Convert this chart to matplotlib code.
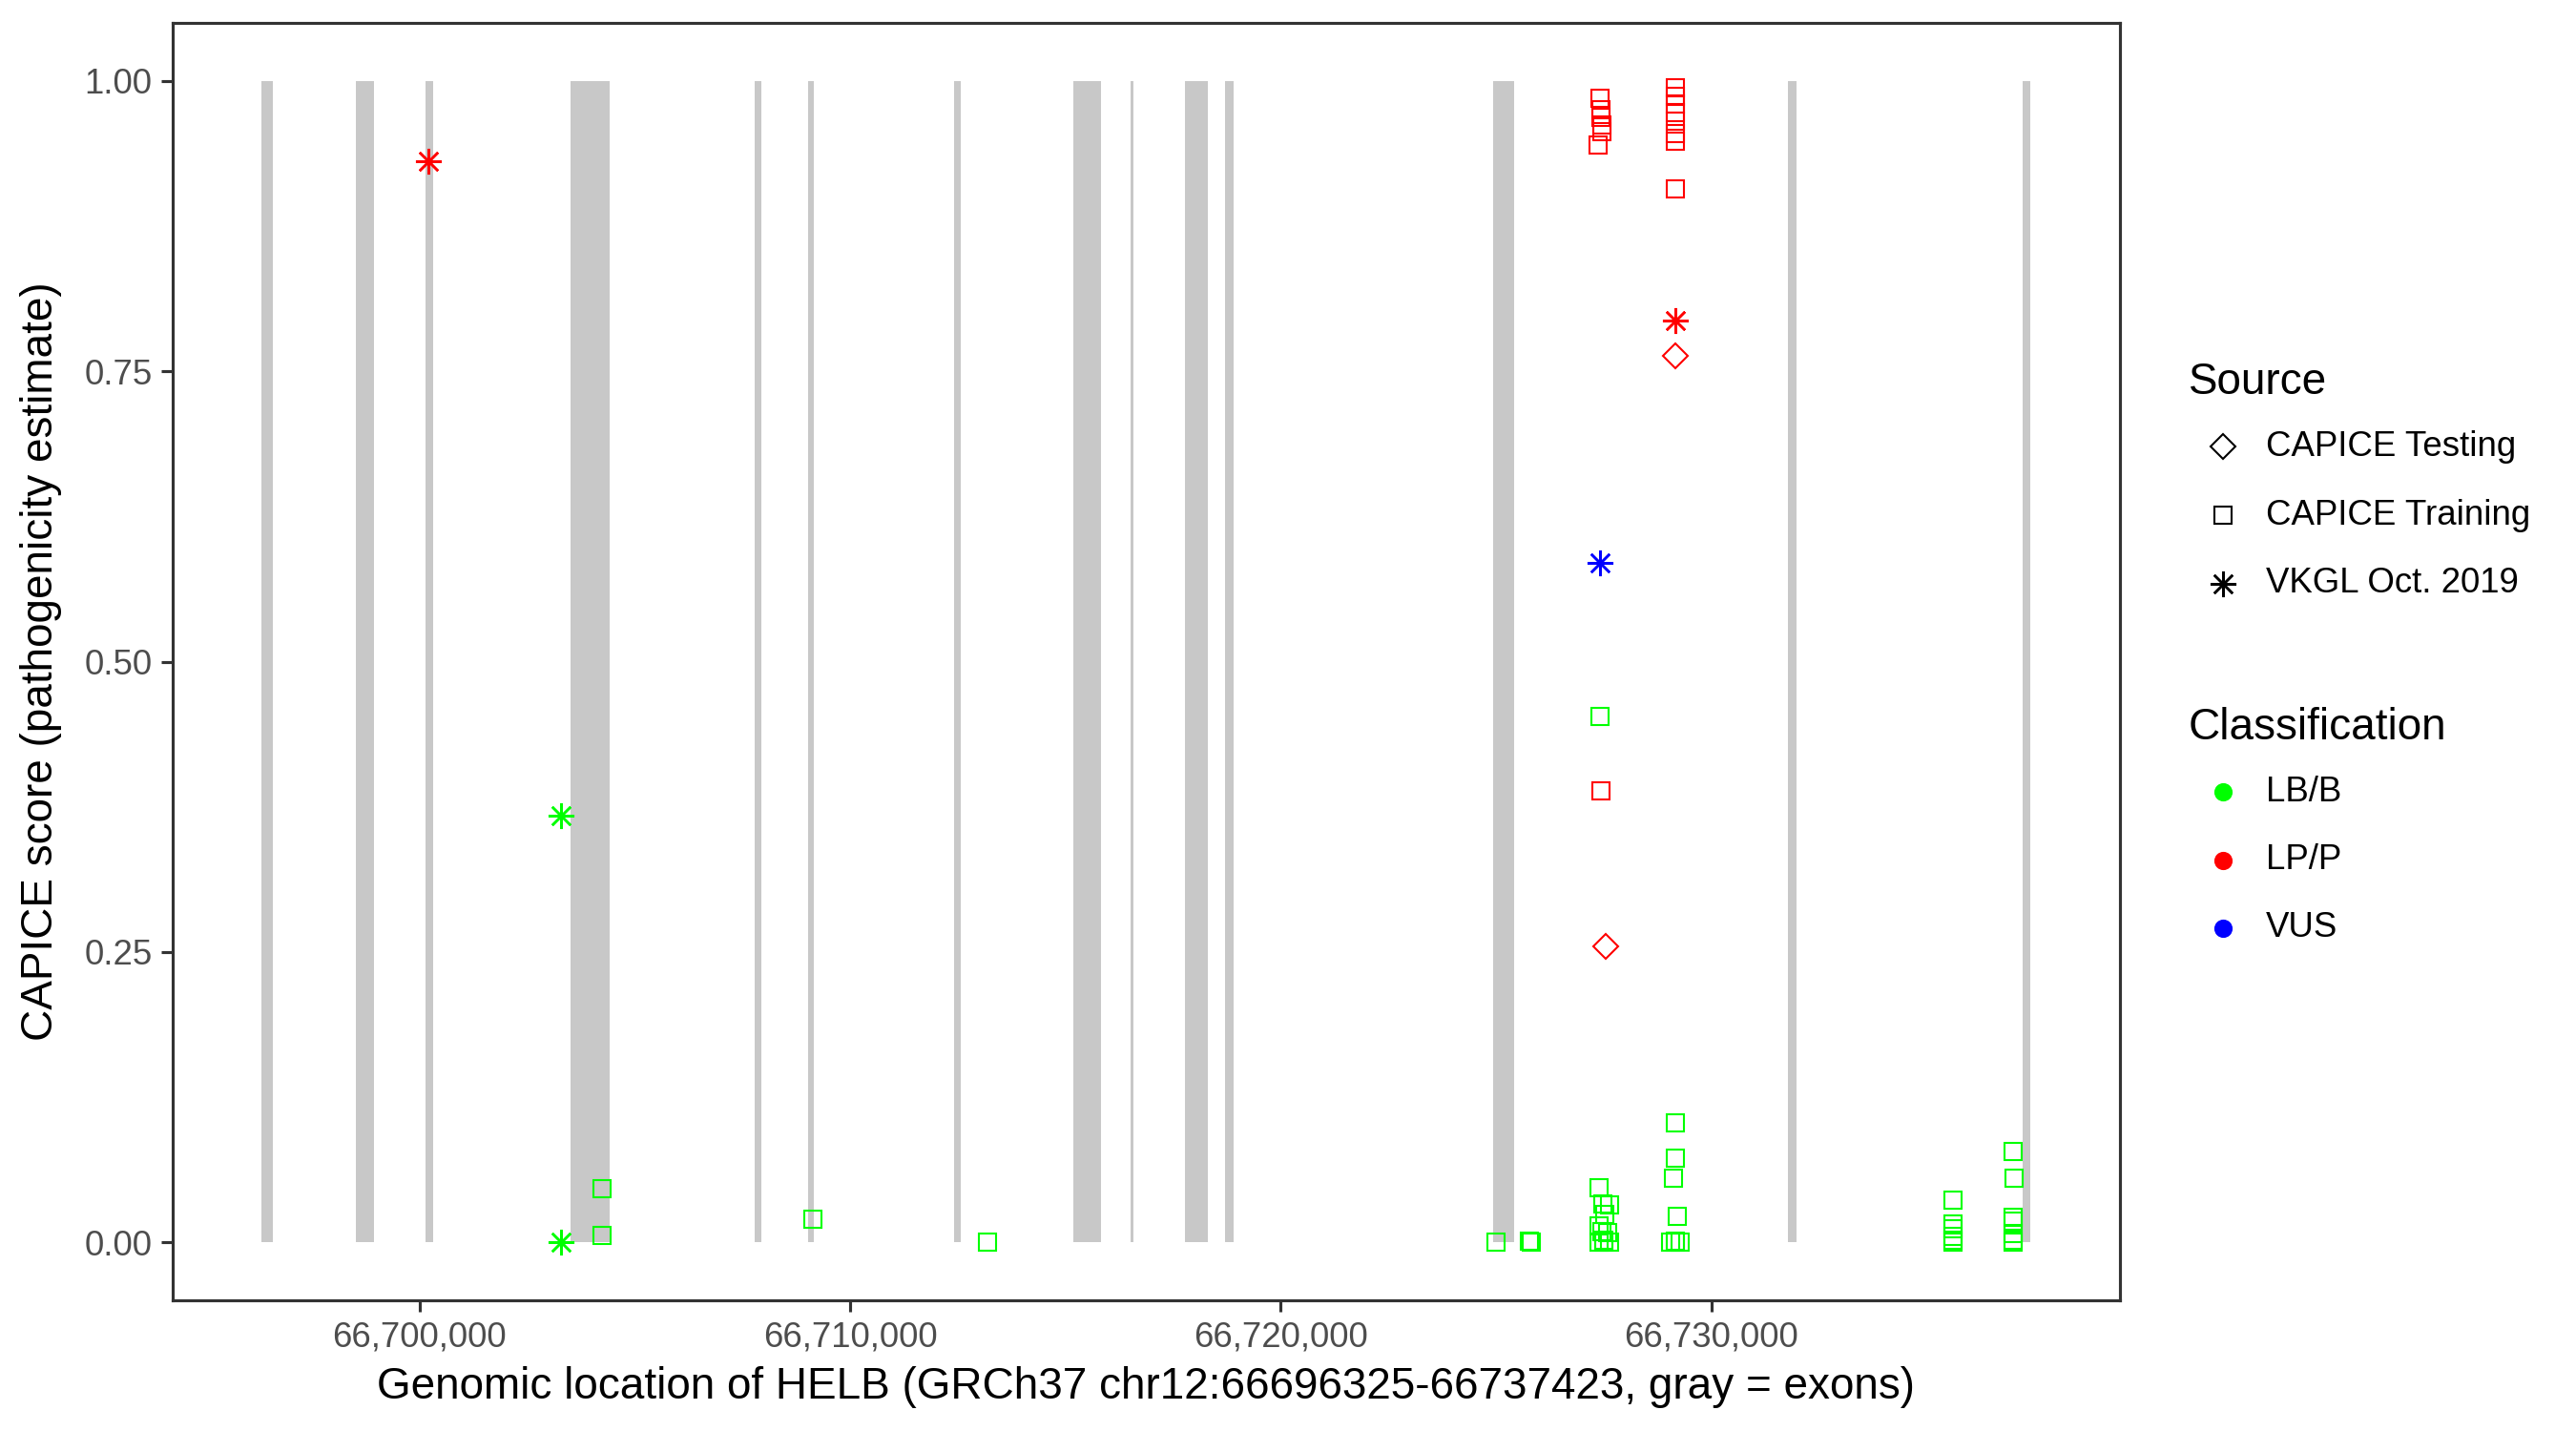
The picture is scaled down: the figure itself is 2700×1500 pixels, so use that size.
import matplotlib
matplotlib.use("Agg")
import matplotlib.pyplot as plt
from matplotlib.lines import Line2D
from matplotlib.ticker import FuncFormatter

plt.rcParams['font.family'] = ['Liberation Sans', 'DejaVu Sans']

# gene window (GRCh37 chr12)
gene_start = 66696325
gene_end = 66737423

# exons (gray bars)
exon_start = [66696340, 66698529, 66700144, 66703506, 66707775, 66709036, 66712420,
              66715185, 66716513, 66717773, 66718703, 66724940, 66731775, 66737217]
exon_end = [66696605, 66698949, 66700321, 66704413, 66707952, 66709169, 66712575,
            66715827, 66716579, 66718304, 66718902, 66725427, 66731974, 66737416]

# CAPICE Training, LB/B
train_lb_pos = [66704236, 66704236, 66709147, 66713195, 66725007, 66725781, 66725830,
                66727410, 66727385, 66727485, 66727640, 66727530, 66727385, 66727460,
                66727590, 66727510, 66727510, 66727640, 66727400,
                66729165, 66729165, 66729110, 66729205, 66729055, 66729165, 66729275, 66729165,
                66735602, 66735602, 66735602, 66735602, 66735602, 66735602,
                66736996, 66737030, 66736996, 66736996, 66736996, 66736996, 66736996]
train_lb_score = [0.046, 0.0055, 0.0197, 0.0, 0.0, 0.001, 0.0,
                  0.453, 0.047, 0.033, 0.0325, 0.024, 0.0145, 0.009,
                  0.008, 0.002, 0.0, 0.0, 0.0,
                  0.103, 0.0725, 0.0555, 0.0227, 0.0, 0.0, 0.0, 0.001,
                  0.0364, 0.0159, 0.012, 0.005, 0.002, 0.0,
                  0.078, 0.0555, 0.0219, 0.0186, 0.0077, 0.002, 0.0]

# CAPICE Training, LP/P
train_lp_pos = [66727418, 66727440, 66727440, 66727460, 66727460, 66727380, 66727440,
                66729165, 66729165, 66729165, 66729165, 66729165, 66729165, 66729165, 66729165]
train_lp_score = [0.985, 0.975, 0.969, 0.962, 0.956, 0.945, 0.389,
                  0.994, 0.987, 0.980, 0.973, 0.965, 0.955, 0.948, 0.907]

# CAPICE Testing, LP/P
test_lp_pos = [66727550, 66729165]
test_lp_score = [0.255, 0.7635]

# VKGL Oct. 2019
vkgl_lb_pos = [66703285, 66703285]
vkgl_lb_score = [0.367, 0.0]
vkgl_lp_pos = [66700210, 66729165]
vkgl_lp_score = [0.931, 0.794]
vkgl_vus_pos = [66727425]
vkgl_vus_score = [0.585]

class_colors = {"LB/B": "#00FF00", "LP/P": "#FF0000", "VUS": "#0000FF"}
source_markers = {"CAPICE Testing": "D", "CAPICE Training": "s", "VKGL Oct. 2019": (8, 2, 0)}
marker_sizes = {"CAPICE Testing": 4.4, "CAPICE Training": 4.2, "VKGL Oct. 2019": 6.5}
marker_widths = {"CAPICE Testing": 0.5, "CAPICE Training": 0.5, "VKGL Oct. 2019": 0.6}

fig = plt.figure(figsize=(9, 5), dpi=300)
ax = fig.add_axes([0.067, 0.0913, 0.7558, 0.8927])

# exons
ax.bar(exon_start, [1.0] * len(exon_start),
       width=[e - s for s, e in zip(exon_start, exon_end)],
       align="edge", bottom=0, color="#C8C8C8", linewidth=0, zorder=1)


def draw(pos, score, source, cls):
    ax.plot(pos, score, linestyle="none", marker=source_markers[source],
            markersize=marker_sizes[source], markerfacecolor="none",
            markeredgecolor=class_colors[cls], markeredgewidth=marker_widths[source],
            color=class_colors[cls], zorder=3)


draw(train_lb_pos, train_lb_score, "CAPICE Training", "LB/B")
draw(train_lp_pos, train_lp_score, "CAPICE Training", "LP/P")
draw(test_lp_pos, test_lp_score, "CAPICE Testing", "LP/P")
draw(vkgl_lb_pos, vkgl_lb_score, "VKGL Oct. 2019", "LB/B")
draw(vkgl_lp_pos, vkgl_lp_score, "VKGL Oct. 2019", "LP/P")
draw(vkgl_vus_pos, vkgl_vus_score, "VKGL Oct. 2019", "VUS")

span = gene_end - gene_start
ax.set_xlim(gene_start - 0.05 * span, gene_end + 0.05 * span)
ax.set_ylim(-0.05, 1.05)
ax.set_xticks([66700000, 66710000, 66720000, 66730000])
ax.xaxis.set_major_formatter(FuncFormatter(lambda v, p: f"{int(v):,}"))
ax.set_yticks([0, 0.25, 0.5, 0.75, 1.0])
ax.set_yticklabels(["0.00", "0.25", "0.50", "0.75", "1.00"])

for s in ax.spines.values():
    s.set_color("#333333")
    s.set_linewidth(0.75)
ax.tick_params(axis="both", length=2.8, width=0.75, color="#333333",
               labelsize=8.8, labelcolor="#4D4D4D", pad=2.3)

ax.set_xlabel("Genomic location of HELB (GRCh37 chr12:66696325-66737423, gray = exons)",
              fontsize=11, labelpad=3)
ax.set_ylabel("CAPICE score (pathogenicity estimate)", fontsize=11, labelpad=5.5)

# legends
W, H = 2700.0, 1500.0


def fx(px):
    return px / W


def fy(py):
    return 1 - py / H


key_x, text_x, title_x = 2330, 2375, 2294
fig.text(fx(title_x), fy(401), "Source", fontsize=11, va="center", ha="left")
for i, src in enumerate(["CAPICE Testing", "CAPICE Training", "VKGL Oct. 2019"]):
    y = 468 + 72 * i
    fig.add_artist(Line2D([fx(key_x)], [fy(y)], transform=fig.transFigure,
                          marker=source_markers[src], markersize=marker_sizes[src],
                          markerfacecolor="none", markeredgecolor="black",
                          markeredgewidth=marker_widths[src], linestyle="none"))
    fig.text(fx(text_x), fy(y), src, fontsize=8.8, va="center", ha="left")

fig.text(fx(title_x), fy(763), "Classification", fontsize=11, va="center", ha="left")
for i, cls in enumerate(["LB/B", "LP/P", "VUS"]):
    y = 830 + 71.5 * i
    fig.add_artist(Line2D([fx(key_x)], [fy(y)], transform=fig.transFigure,
                          marker="o", markersize=3.6, markerfacecolor=class_colors[cls],
                          markeredgecolor=class_colors[cls], linestyle="none"))
    fig.text(fx(text_x), fy(y), cls, fontsize=8.8, va="center", ha="left")

fig.savefig("out.png", dpi=300, facecolor="white")
